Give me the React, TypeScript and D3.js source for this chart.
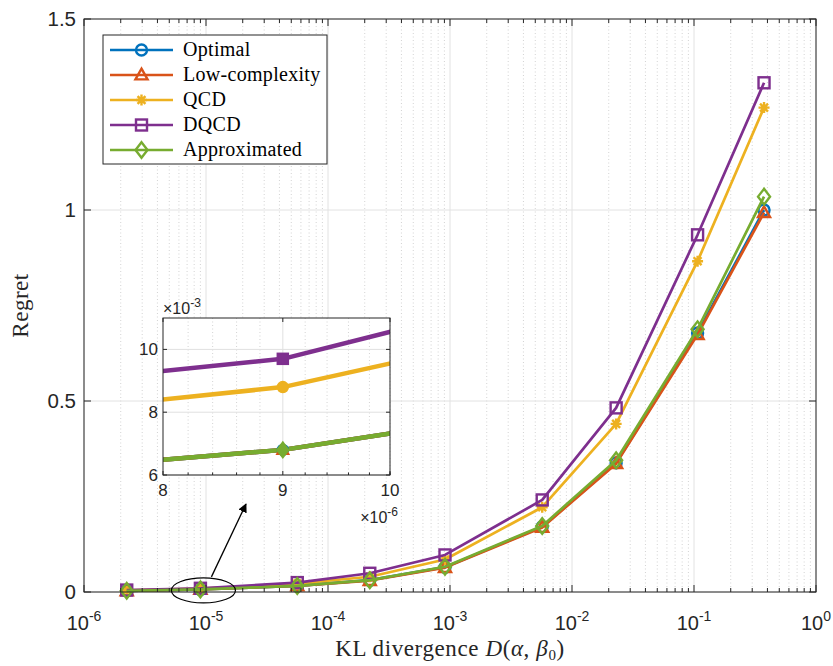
import * as d3 from 'd3';
import React from 'react';

// KL divergence values on the x axis
const klValues = [2.24e-6, 9e-6, 5.6e-5, 2.2e-4, 9.1e-4, 5.7e-3, 0.023, 0.107, 0.375];

// regret per scheme
const optimal = [0.0031, 0.0068, 0.0159, 0.031, 0.065, 0.171, 0.338, 0.678, 1.0];
const lowComplexity = [0.0031, 0.0068, 0.0159, 0.030, 0.064, 0.169, 0.336, 0.674, 0.993];
const qcd = [0.0041, 0.0088, 0.0218, 0.040, 0.085, 0.222, 0.44, 0.866, 1.268];
const dqcd = [0.0051, 0.0097, 0.0246, 0.049, 0.097, 0.241, 0.482, 0.935, 1.333];
const approximated = [0.0031, 0.0068, 0.0159, 0.031, 0.066, 0.173, 0.345, 0.688, 1.035];

const seriesNames = ['Optimal', 'Low-complexity', 'QCD', 'DQCD', 'Approximated'];
const seriesColors = ['#0072BD', '#D95319', '#EDB120', '#7E2F8E', '#77AC30'];
const seriesMarkers = ['circle', 'triangle', 'asterisk', 'square', 'diamond'];
const seriesValues = [optimal, lowComplexity, qcd, dqcd, approximated];

const yTicks = [0, 0.5, 1, 1.5];
const yTickLabels = ['0', '0.5', '1', '1.5'];
const xTickExps = [-6, -5, -4, -3, -2, -1, 0];

const insetXTicks = [8e-6, 9e-6, 1e-5];
const insetXTickLabels = ['8', '9', '10'];
const insetYTicks = [6e-3, 8e-3, 10e-3];
const insetYTickLabels = ['6', '8', '10'];

const AXIS = '#262626';
const SANS = '"Liberation Sans", Arial, Helvetica, sans-serif';
const SERIF = '"Liberation Serif", "Times New Roman", serif';

const Marker = ({ kind, x, y, color, size, filled, sw }: any) => {
    const s = size / 2;
    const fill = filled ? color : 'none';
    if (kind === 'circle') return <circle cx={x} cy={y} r={s} fill={fill} stroke={color} strokeWidth={sw} />;
    if (kind === 'square') return <rect x={x - s} y={y - s} width={size} height={size} fill={fill} stroke={color} strokeWidth={sw} />;
    if (kind === 'triangle')
        return <path d={`M${x},${y - s * 1.15}L${x + s * 1.1},${y + s * 0.8}L${x - s * 1.1},${y + s * 0.8}Z`} fill={fill} stroke={color} strokeWidth={sw} strokeLinejoin="miter" />;
    if (kind === 'diamond')
        return <path d={`M${x},${y - s * 1.3}L${x + s},${y}L${x},${y + s * 1.3}L${x - s},${y}Z`} fill={fill} stroke={color} strokeWidth={sw} />;
    if (filled) return <circle cx={x} cy={y} r={s} fill={color} stroke={color} strokeWidth={sw} />;
    const d = s * 0.72;
    return <path d={`M${x - s},${y}H${x + s}M${x},${y - s}V${y + s}M${x - d},${y - d}L${x + d},${y + d}M${x - d},${y + d}L${x + d},${y - d}`} stroke={color} strokeWidth={sw} />;
};

const App = () => {
    // main axes
    const left = 84, right = 816, top = 19, bottom = 592;
    const x = d3.scaleLog().domain([1e-6, 1]).range([left, right]);
    const y = d3.scaleLinear().domain([0, 1.5]).range([bottom, top]);

    // inset axes
    const iL = 163, iR = 390, iT = 318, iB = 475;
    const xi = d3.scaleLog().domain([8e-6, 1e-5]).range([iL, iR]);
    const yi = d3.scaleLinear().domain([6e-3, 11e-3]).range([iB, iT]);

    const minorX: number[] = [];
    for (let e = -6; e < 0; e++) for (let k = 2; k <= 9; k++) minorX.push(k * Math.pow(10, e));
    const insetMinorX = d3.range(8.2, 10, 0.2).map(v => v * 1e-6).filter(v => Math.abs(v - 9e-6) > 1e-8);

    const line = d3.line<number>().x((_, i) => x(klValues[i])).y(v => y(v));
    const lineIn = d3.line<number>().x((_, i) => xi(klValues[i])).y(v => yi(v));

    // zoom ellipse around the second point
    const ex = x(klValues[1]) + 3, ey = y(optimal[1]) + 1;

    return (
        <svg width={833} height={666} style={{ position: 'absolute', left: 0, top: 0, background: '#fff' }}>
            <defs>
                <clipPath id="insetClip"><rect x={iL} y={iT} width={iR - iL} height={iB - iT} /></clipPath>
                <marker id="arrowHead" viewBox="0 0 10 10" refX="9" refY="5" markerWidth="7" markerHeight="7" orient="auto">
                    <path d="M0,0L10,5L0,10Z" fill="#000" />
                </marker>
            </defs>
            <rect x={0} y={0} width={833} height={666} fill="#fff" />

            {/* grid */}
            {minorX.map((v, i) => <line key={'mg' + i} x1={x(v)} x2={x(v)} y1={top} y2={bottom} stroke="#c8c8c8" strokeWidth={0.8} strokeDasharray="1,2.5" />)}
            {xTickExps.map(e => <line key={'xg' + e} x1={x(Math.pow(10, e))} x2={x(Math.pow(10, e))} y1={top} y2={bottom} stroke="#e2e2e2" strokeWidth={1} />)}
            {yTicks.map(t => <line key={'yg' + t} x1={left} x2={right} y1={y(t)} y2={y(t)} stroke="#e2e2e2" strokeWidth={1} />)}

            {/* series */}
            {seriesValues.map((vals, s) => (
                <g key={'s' + s}>
                    <path d={line(vals) || ''} fill="none" stroke={seriesColors[s]} strokeWidth={2.7} strokeLinejoin="round" />
                    {vals.map((v, i) => (
                        <Marker key={i} kind={seriesMarkers[s]} x={x(klValues[i])} y={y(v)} color={seriesColors[s]} size={s === 4 ? 12 : 11} filled={false} sw={2.4} />
                    ))}
                </g>
            ))}

            {/* axes box */}
            <rect x={left} y={top} width={right - left} height={bottom - top} fill="none" stroke={AXIS} strokeWidth={1} />
            {xTickExps.map(e => (
                <g key={'xt' + e}>
                    <line x1={x(Math.pow(10, e))} x2={x(Math.pow(10, e))} y1={bottom} y2={bottom - 7} stroke={AXIS} />
                    <line x1={x(Math.pow(10, e))} x2={x(Math.pow(10, e))} y1={top} y2={top + 7} stroke={AXIS} />
                    <text x={x(Math.pow(10, e))} y={630} textAnchor="middle" fontFamily={SANS} fontSize={20} fill={AXIS}>
                        10<tspan dy={-9} fontSize={14}>{e === 0 ? '0' : '-' + Math.abs(e)}</tspan>
                    </text>
                </g>
            ))}
            {minorX.map((v, i) => (
                <g key={'mt' + i}>
                    <line x1={x(v)} x2={x(v)} y1={bottom} y2={bottom - 4} stroke={AXIS} />
                    <line x1={x(v)} x2={x(v)} y1={top} y2={top + 4} stroke={AXIS} />
                </g>
            ))}
            {yTicks.map((t, i) => (
                <g key={'yt' + t}>
                    <line x1={left} x2={left + 7} y1={y(t)} y2={y(t)} stroke={AXIS} />
                    <line x1={right} x2={right - 7} y1={y(t)} y2={y(t)} stroke={AXIS} />
                    <text x={76} y={y(t) + 7} textAnchor="end" fontFamily={SANS} fontSize={20.5} fill={AXIS}>{yTickLabels[i]}</text>
                </g>
            ))}

            {/* axis labels */}
            <text x={(left + right) / 2} y={656} textAnchor="middle" fontFamily={SERIF} fontSize={23} fill={AXIS} letterSpacing={0.6}>
                KL divergence <tspan fontStyle="italic">D</tspan>(<tspan fontStyle="italic">α</tspan>, <tspan fontStyle="italic">β</tspan><tspan fontSize={15} dy={4}>0</tspan><tspan dy={-4}>)</tspan>
            </text>
            <text transform={`translate(28,${(top + bottom) / 2}) rotate(-90)`} textAnchor="middle" fontFamily={SERIF} fontSize={23} fill={AXIS} letterSpacing={0.5}>Regret</text>

            {/* legend */}
            <rect x={103} y={35} width={224} height={129} fill="#fff" stroke={AXIS} strokeWidth={1} />
            {seriesNames.map((name, i) => {
                const ly = 50 + i * 25;
                return (
                    <g key={'lg' + i}>
                        <line x1={110} x2={173} y1={ly} y2={ly} stroke={seriesColors[i]} strokeWidth={2.7} />
                        <Marker kind={seriesMarkers[i]} x={141.5} y={ly} color={seriesColors[i]} size={i === 4 ? 12 : 11} filled={false} sw={2.4} />
                        <text x={183} y={ly + 6} fontFamily={SERIF} fontSize={20} fill="#000" letterSpacing={0.3}>{name}</text>
                    </g>
                );
            })}

            {/* zoom annotation */}
            <ellipse cx={ex} cy={ey} rx={32} ry={12.5} fill="none" stroke="#000" strokeWidth={1.2} />
            <line x1={ex + 8} y1={ey - 13.5} x2={246} y2={504} stroke="#000" strokeWidth={1.3} markerEnd="url(#arrowHead)" />

            {/* inset */}
            <rect x={iL} y={iT} width={iR - iL} height={iB - iT} fill="#fff" />
            {insetMinorX.map((v, i) => <line key={'img' + i} x1={xi(v)} x2={xi(v)} y1={iT} y2={iB} stroke="#c8c8c8" strokeWidth={0.8} strokeDasharray="1,2.5" />)}
            <line x1={xi(9e-6)} x2={xi(9e-6)} y1={iT} y2={iB} stroke="#e0e0e0" />
            {insetYTicks.map(t => <line key={'iyg' + t} x1={iL} x2={iR} y1={yi(t)} y2={yi(t)} stroke="#e0e0e0" />)}
            <g clipPath="url(#insetClip)">
                {seriesValues.map((vals, s) => (
                    <path key={'is' + s} d={lineIn(vals) || ''} fill="none" stroke={seriesColors[s]} strokeWidth={4.5} strokeLinejoin="round" />
                ))}
            </g>
            {seriesValues.map((vals, s) => (
                <Marker key={'im' + s} kind={seriesMarkers[s]} x={xi(klValues[1])} y={yi(vals[1])} color={seriesColors[s]} size={s === 4 ? 12 : 11} filled={true} sw={1.5} />
            ))}
            <rect x={iL} y={iT} width={iR - iL} height={iB - iT} fill="none" stroke={AXIS} strokeWidth={1} />
            {insetMinorX.map((v, i) => <line key={'imt' + i} x1={xi(v)} x2={xi(v)} y1={iB} y2={iB - 2.5} stroke={AXIS} />)}
            {insetXTicks.map((t, i) => (
                <g key={'ixt' + i}>
                    <line x1={xi(t)} x2={xi(t)} y1={iB} y2={iB - 4} stroke={AXIS} />
                    <line x1={xi(t)} x2={xi(t)} y1={iT} y2={iT + 4} stroke={AXIS} />
                    <text x={xi(t)} y={iB + 21} textAnchor="middle" fontFamily={SANS} fontSize={17} fill={AXIS}>{insetXTickLabels[i]}</text>
                </g>
            ))}
            {insetYTicks.map((t, i) => (
                <g key={'iyt' + i}>
                    <line x1={iL} x2={iL + 4} y1={yi(t)} y2={yi(t)} stroke={AXIS} />
                    <line x1={iR} x2={iR - 4} y1={yi(t)} y2={yi(t)} stroke={AXIS} />
                    <text x={iL - 5} y={yi(t) + 6} textAnchor="end" fontFamily={SANS} fontSize={17} fill={AXIS}>{insetYTickLabels[i]}</text>
                </g>
            ))}
            <text x={iL} y={iT - 4} fontFamily={SANS} fontSize={16} fill={AXIS}>×10<tspan dy={-7} fontSize={12}>-3</tspan></text>
            <text x={iR + 8} y={iB + 48} textAnchor="end" fontFamily={SANS} fontSize={16} fill={AXIS}>×10<tspan dy={-7} fontSize={12}>-6</tspan></text>
        </svg>
    );
};

export default App;
